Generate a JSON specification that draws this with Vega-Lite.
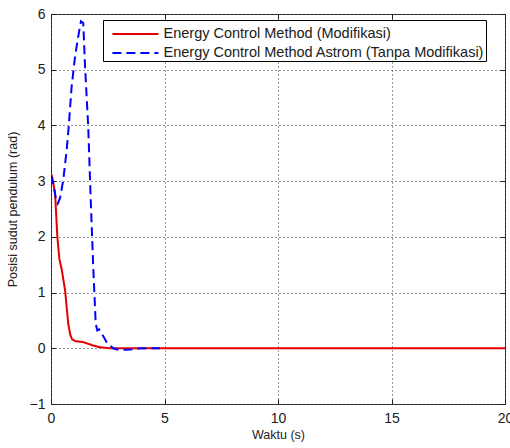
{
  "$schema": "https://vega.github.io/schema/vega-lite/v6.json",
  "width": 454,
  "height": 390,
  "autosize": {"type": "none"},
  "padding": {"left": 51, "top": 14, "right": 5, "bottom": 44},
  "background": "white",
  "config": {
    "font": "Liberation Sans",
    "view": {"stroke": "#404040", "strokeWidth": 1}
  },
  "data": {"values": [
    {"t": 0, "v": 3.14, "s": "Energy Control Method (Modifikasi)"},
    {"t": 0.05, "v": 3.08, "s": "Energy Control Method (Modifikasi)"},
    {"t": 0.18, "v": 2.78, "s": "Energy Control Method (Modifikasi)"},
    {"t": 0.28, "v": 2.0, "s": "Energy Control Method (Modifikasi)"},
    {"t": 0.37, "v": 1.6, "s": "Energy Control Method (Modifikasi)"},
    {"t": 0.47, "v": 1.42, "s": "Energy Control Method (Modifikasi)"},
    {"t": 0.62, "v": 1.04, "s": "Energy Control Method (Modifikasi)"},
    {"t": 0.76, "v": 0.44, "s": "Energy Control Method (Modifikasi)"},
    {"t": 0.85, "v": 0.24, "s": "Energy Control Method (Modifikasi)"},
    {"t": 0.93, "v": 0.16, "s": "Energy Control Method (Modifikasi)"},
    {"t": 1.06, "v": 0.13, "s": "Energy Control Method (Modifikasi)"},
    {"t": 1.42, "v": 0.11, "s": "Energy Control Method (Modifikasi)"},
    {"t": 1.86, "v": 0.05, "s": "Energy Control Method (Modifikasi)"},
    {"t": 2.15, "v": 0.02, "s": "Energy Control Method (Modifikasi)"},
    {"t": 2.6, "v": 0.0, "s": "Energy Control Method (Modifikasi)"},
    {"t": 20, "v": 0.0, "s": "Energy Control Method (Modifikasi)"},
    {"t": 0, "v": 3.1, "s": "Energy Control Method Astrom (Tanpa Modifikasi)"},
    {"t": 0.08, "v": 3.0, "s": "Energy Control Method Astrom (Tanpa Modifikasi)"},
    {"t": 0.2, "v": 2.72, "s": "Energy Control Method Astrom (Tanpa Modifikasi)"},
    {"t": 0.3, "v": 2.6, "s": "Energy Control Method Astrom (Tanpa Modifikasi)"},
    {"t": 0.4, "v": 2.7, "s": "Energy Control Method Astrom (Tanpa Modifikasi)"},
    {"t": 0.54, "v": 3.02, "s": "Energy Control Method Astrom (Tanpa Modifikasi)"},
    {"t": 0.69, "v": 3.56, "s": "Energy Control Method Astrom (Tanpa Modifikasi)"},
    {"t": 0.78, "v": 3.98, "s": "Energy Control Method Astrom (Tanpa Modifikasi)"},
    {"t": 0.91, "v": 4.7, "s": "Energy Control Method Astrom (Tanpa Modifikasi)"},
    {"t": 1.06, "v": 5.24, "s": "Energy Control Method Astrom (Tanpa Modifikasi)"},
    {"t": 1.2, "v": 5.6, "s": "Energy Control Method Astrom (Tanpa Modifikasi)"},
    {"t": 1.32, "v": 5.87, "s": "Energy Control Method Astrom (Tanpa Modifikasi)"},
    {"t": 1.42, "v": 5.84, "s": "Energy Control Method Astrom (Tanpa Modifikasi)"},
    {"t": 1.5, "v": 5.06, "s": "Energy Control Method Astrom (Tanpa Modifikasi)"},
    {"t": 1.64, "v": 3.98, "s": "Energy Control Method Astrom (Tanpa Modifikasi)"},
    {"t": 1.75, "v": 2.66, "s": "Energy Control Method Astrom (Tanpa Modifikasi)"},
    {"t": 1.86, "v": 1.46, "s": "Energy Control Method Astrom (Tanpa Modifikasi)"},
    {"t": 1.97, "v": 0.44, "s": "Energy Control Method Astrom (Tanpa Modifikasi)"},
    {"t": 2.04, "v": 0.32, "s": "Energy Control Method Astrom (Tanpa Modifikasi)"},
    {"t": 2.12, "v": 0.34, "s": "Energy Control Method Astrom (Tanpa Modifikasi)"},
    {"t": 2.23, "v": 0.27, "s": "Energy Control Method Astrom (Tanpa Modifikasi)"},
    {"t": 2.45, "v": 0.11, "s": "Energy Control Method Astrom (Tanpa Modifikasi)"},
    {"t": 2.74, "v": 0.0, "s": "Energy Control Method Astrom (Tanpa Modifikasi)"},
    {"t": 3.0, "v": -0.03, "s": "Energy Control Method Astrom (Tanpa Modifikasi)"},
    {"t": 3.5, "v": -0.02, "s": "Energy Control Method Astrom (Tanpa Modifikasi)"},
    {"t": 4.0, "v": 0.0, "s": "Energy Control Method Astrom (Tanpa Modifikasi)"},
    {"t": 4.8, "v": 0.0, "s": "Energy Control Method Astrom (Tanpa Modifikasi)"}
  ]},
  "layer": [
    {
      "mark": {"type": "line", "strokeWidth": 2, "clip": true},
      "encoding": {
        "x": {
          "field": "t", "type": "quantitative",
          "scale": {"domain": [0, 20], "nice": false, "zero": false},
          "axis": {
            "values": [0, 5, 10, 15, 20], "title": "Waktu (s)",
            "titleFontSize": 12.5, "titleFontWeight": "normal", "titleColor": "#202020", "titlePadding": 3,
            "labelFontSize": 14, "labelColor": "#202020", "labelPadding": 12,
            "grid": true, "gridColor": "#000000", "gridDash": [1, 3], "gridOpacity": 0.8,
            "domain": false, "tickColor": "#202020", "tickSize": -5, "labelFlush": false
          }
        },
        "y": {
          "field": "v", "type": "quantitative",
          "scale": {"domain": [-1, 6], "nice": false, "zero": false},
          "axis": {
            "values": [-1, 0, 1, 2, 3, 4, 5, 6], "title": "Posisi sudut pendulum (rad)",
            "titleFontSize": 12.5, "titleFontWeight": "normal", "titleColor": "#202020", "titlePadding": 10,
            "labelFontSize": 14, "labelColor": "#202020", "labelPadding": 11,
            "grid": true, "gridColor": "#000000", "gridDash": [1, 3], "gridOpacity": 0.8,
            "domain": false, "tickColor": "#202020", "tickSize": -5, "labelFlush": false
          }
        },
        "color": {
          "field": "s", "type": "nominal", "title": null,
          "scale": {"domain": ["Energy Control Method (Modifikasi)", "Energy Control Method Astrom (Tanpa Modifikasi)"], "range": ["#e60000", "#0000ff"]},
          "legend": {
            "orient": "none", "legendX": 52, "legendY": 6,
            "strokeColor": "#000000", "fillColor": "white", "padding": 1.5,
            "labelFontSize": 14.5, "labelColor": "#202020", "labelLimit": 400,
            "symbolType": "M-0.4,0H3.6", "symbolStrokeWidth": 2, "symbolSize": 529, "rowPadding": 0, "labelOffset": 34,
            "symbolFillColor": "transparent"
          }
        },
        "strokeDash": {
          "field": "s", "type": "nominal", "title": null,
          "scale": {"domain": ["Energy Control Method (Modifikasi)", "Energy Control Method Astrom (Tanpa Modifikasi)"], "range": [[1, 0], [9, 5]]}
        }
      }
    },
    {
      "mark": {"type": "point", "opacity": 0},
      "encoding": {
        "x": {
          "field": "t", "type": "quantitative",
          "scale": {"domain": [0, 20], "nice": false, "zero": false},
          "axis": {"orient": "top", "values": [0, 5, 10, 15, 20], "title": null, "labels": false, "grid": false, "domain": false, "tickColor": "#202020", "tickSize": -5}
        },
        "y": {
          "field": "v", "type": "quantitative",
          "scale": {"domain": [-1, 6], "nice": false, "zero": false},
          "axis": {"orient": "right", "values": [-1, 0, 1, 2, 3, 4, 5, 6], "title": null, "labels": false, "grid": false, "domain": false, "tickColor": "#202020", "tickSize": -5}
        }
      }
    }
  ],
  "resolve": {"axis": {"x": "independent", "y": "independent"}}
}
